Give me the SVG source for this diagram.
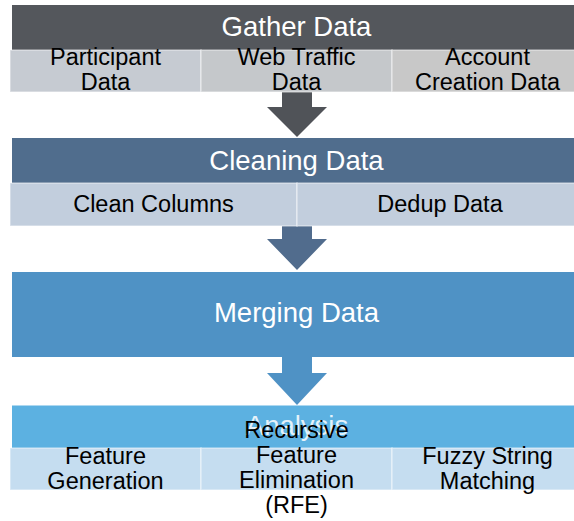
<svg xmlns="http://www.w3.org/2000/svg" width="574" height="521" viewBox="0 0 574 521">
  <style>
    .hdr { font-family: "Liberation Sans", Arial, sans-serif; font-size: 27.5px; fill: #ffffff; text-anchor: middle; }
    .sub { font-family: "Liberation Sans", Arial, sans-serif; font-size: 23.5px; fill: #000000; text-anchor: middle; }
    .cell { stroke: #ffffff; stroke-opacity: 0.45; stroke-width: 1.5; }
  </style>
  <rect width="574" height="521" fill="#ffffff"/>

  <!-- connectors: block arrows between stages -->
  <g id="connectors">
    <path d="M282 92 H312 V107 H327 L297 137 L267 107 H282 Z" fill="#505358"/>
    <path d="M282 226 H312 V239 H327 L297 270 L267 239 H282 Z" fill="#516C8D"/>
    <path d="M282 357 H312 V373 H327 L297 405 L267 373 H282 Z" fill="#4F92C5"/>
  </g>

  <!-- stage 1 -->
  <g id="gather-data">
    <rect x="12" y="5" width="569" height="45" fill="#54575C"/>
    <text class="hdr" x="296.5" y="36">Gather Data</text>
  </g>
  <g id="participant-data">
    <rect class="cell" x="10" y="50" width="191" height="42" fill="#C6CBD2"/>
    <text class="sub" x="105.5" y="65">Participant</text>
    <text class="sub" x="105.5" y="90">Data</text>
  </g>
  <g id="web-traffic-data">
    <rect class="cell" x="201" y="50" width="191" height="42" fill="#C5C8CB"/>
    <text class="sub" x="296.5" y="65">Web Traffic</text>
    <text class="sub" x="296.5" y="90">Data</text>
  </g>
  <g id="account-creation-data">
    <rect class="cell" x="392" y="50" width="191" height="42" fill="#C8C8C8"/>
    <text class="sub" x="487.5" y="65">Account</text>
    <text class="sub" x="487.5" y="90">Creation Data</text>
  </g>

  <!-- stage 2 -->
  <g id="cleaning-data">
    <rect x="12" y="138" width="569" height="45" fill="#506D8D"/>
    <text class="hdr" x="296.5" y="169.5">Cleaning Data</text>
  </g>
  <g id="clean-columns">
    <rect class="cell" x="10" y="183" width="287" height="43" fill="#C2CEDD"/>
    <text class="sub" x="153.5" y="211.5">Clean Columns</text>
  </g>
  <g id="dedup-data">
    <rect class="cell" x="297" y="183" width="286" height="43" fill="#C2CEDD"/>
    <text class="sub" x="440" y="211.5">Dedup Data</text>
  </g>

  <!-- stage 3 -->
  <g id="merging-data">
    <rect x="12" y="272" width="569" height="85" fill="#4F92C5"/>
    <text class="hdr" x="296.5" y="322">Merging Data</text>
  </g>

  <!-- stage 4 -->
  <g id="analysis">
    <rect x="12" y="405.5" width="569" height="42.5" fill="#5CB1E1"/>
    <text class="hdr" x="297" y="435" fill-opacity="0.85">Analysis</text>
  </g>
  <g id="feature-generation">
    <rect class="cell" x="10" y="448" width="191" height="42" fill="#C5DDF0"/>
    <text class="sub" x="105.5" y="464">Feature</text>
    <text class="sub" x="105.5" y="489">Generation</text>
  </g>
  <g id="feature-elimination">
    <rect class="cell" x="201" y="448" width="191" height="42" fill="#C5DDF0"/>
    <text class="sub" x="296.5" y="438">Recursive</text>
    <text class="sub" x="296.5" y="463">Feature</text>
    <text class="sub" x="296.5" y="488">Elimination</text>
    <text class="sub" x="296.5" y="513">(RFE)</text>
  </g>
  <g id="fuzzy-string-matching">
    <rect class="cell" x="392" y="448" width="191" height="42" fill="#C5DDF0"/>
    <text class="sub" x="487.5" y="464">Fuzzy String</text>
    <text class="sub" x="487.5" y="489">Matching</text>
  </g>
</svg>
